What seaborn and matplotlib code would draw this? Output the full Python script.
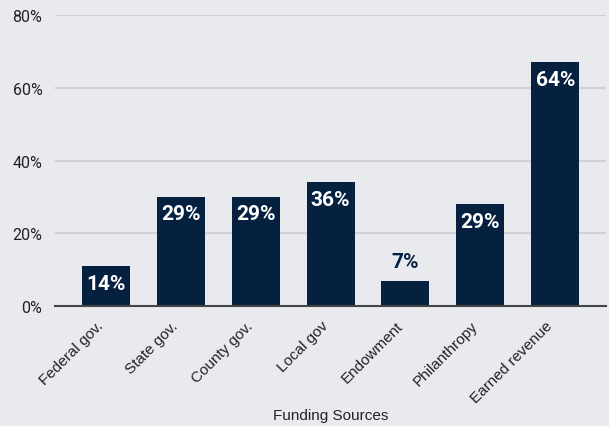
import pandas as pd
import matplotlib.pyplot as plt
import matplotlib.transforms as mtransforms
import seaborn as sns

# Funding sources: bar heights (% of orgs) and the labels printed on them
sources = ['Federal gov.', 'State gov.', 'County gov.', 'Local gov', 'Endowment',
           'Philanthropy', 'Earned revenue']
heights = [11, 30, 30, 34, 7, 28, 67]
labels = ['14%', '29%', '29%', '36%', '7%', '29%', '64%']

df = pd.DataFrame({'source': sources, 'share': heights})

bg = '#e9eaee'
navy = '#06203f'

sns.set_theme(style='whitegrid')
plt.rcParams['font.family'] = ['Liberation Sans', 'DejaVu Sans']

fig = plt.figure(figsize=(6.09, 4.27), dpi=100, facecolor=bg)
ax = fig.add_axes([0.0903, 0.281, 0.905, 0.6815])
ax.set_facecolor(bg)

sns.barplot(data=df, x='source', y='share', color=navy, width=0.64,
            saturation=1, linewidth=0, ax=ax, zorder=3)

ax.set_ylim(0, 80)
ax.set_xlim(-0.68, 6.68)
ax.set_yticks([0, 20, 40, 60, 80])
ax.set_yticklabels([f'{v}%' for v in [0, 20, 40, 60, 80]], fontsize=11.5,
                   color='#222222', family=['Roboto', 'DejaVu Sans'])
ax.tick_params(axis='y', length=0, pad=9)
ax.tick_params(axis='x', length=0, pad=6)
shift = mtransforms.ScaledTranslation(-7 / 72, -3 / 72, fig.dpi_scale_trans)
for t in ax.get_xticklabels():
    t.set_rotation(45)
    t.set_ha('right')
    t.set_rotation_mode('anchor')
    t.set_fontsize(11)
    t.set_color('#222222')
    t.set_transform(t.get_transform() + shift)
ax.grid(axis='y', color='#cfd0d3', linewidth=1.5, zorder=0)
ax.grid(axis='x', visible=False)
for s in ['top', 'right', 'left']:
    ax.spines[s].set_visible(False)
ax.spines['bottom'].set_color('#444444')
ax.spines['bottom'].set_linewidth(1.5)
ax.spines['bottom'].set_zorder(4)

ax.set_xlabel('Funding Sources', fontsize=11, color='#222222')
ax.xaxis.set_label_coords(0.5, -0.35)
ax.set_ylabel('')

# value labels: inside the bar near the top, above it for very short bars
px = 72 / fig.dpi
for i, (h, lab) in enumerate(zip(heights, labels)):
    if h < 10:
        ax.annotate(lab, (i, h), xytext=(0, 19 * px), textcoords='offset points',
                    ha='center', va='center', color=navy, fontsize=15,
                    fontweight='bold', family=['Roboto', 'DejaVu Sans'], zorder=5)
    else:
        off = min(17, h / 2 * 3.64)
        ax.annotate(lab, (i, h), xytext=(0, -off * px), textcoords='offset points',
                    ha='center', va='center', color='white', fontsize=15,
                    fontweight='bold', family=['Roboto', 'DejaVu Sans'], zorder=5)

fig.savefig('out.png', dpi=100, facecolor=bg)
